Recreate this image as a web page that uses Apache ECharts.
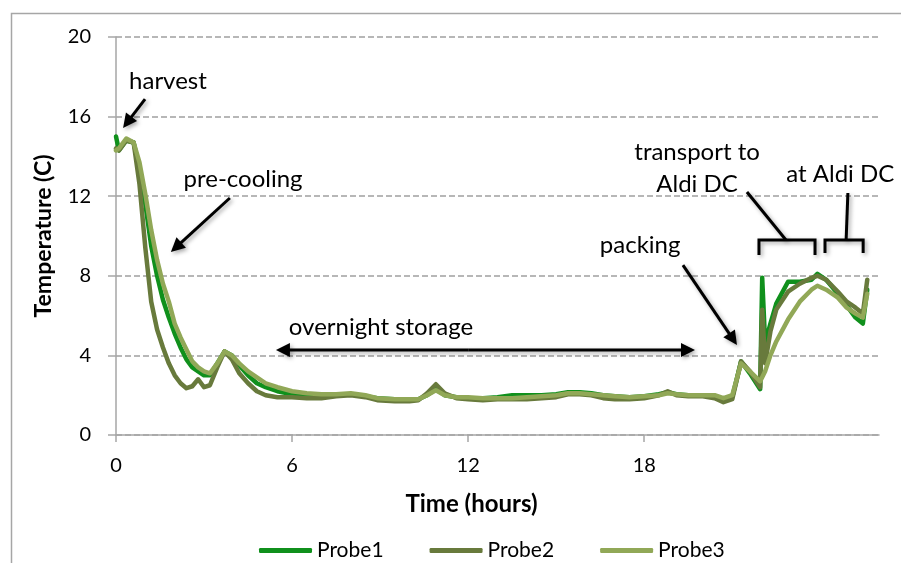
<!DOCTYPE html>
<html>
<head>
<meta charset="utf-8">
<script src="https://cdn.jsdelivr.net/npm/echarts@6/dist/echarts.min.js"></script>
<style>
html,body{margin:0;padding:0;background:#fff;}
#chart{width:901px;height:563px;}
</style>
</head>
<body>
<div id="chart"></div>
<script>
// ---- data (time in hours, temperature in °C) ----
const seriesNames = ['Probe1', 'Probe2', 'Probe3'];
const hours = [0, 0.1, 0.35, 0.6, 0.8, 1.0, 1.2, 1.4, 1.6, 1.8, 2.0, 2.2, 2.4, 2.6, 2.8, 3.0, 3.2, 3.45, 3.7, 3.95,
  4.2, 4.5, 4.8, 5.1, 5.5, 6.0, 6.5, 7.0, 7.5, 8.0, 8.5, 8.9, 9.5, 10.0, 10.3, 10.6, 10.9, 11.2, 11.6, 12.0,
  12.5, 13.0, 13.5, 14.0, 14.5, 15.0, 15.4, 15.8, 16.2, 16.6, 17.0, 17.5, 18.0, 18.5, 18.8, 19.1, 19.5, 20.0, 20.4, 20.7,
  21.0, 21.3, 21.6, 21.95, 22.02, 22.12, 22.3, 22.5, 22.9, 23.3, 23.7, 23.9, 24.2, 24.6, 24.9, 25.2, 25.45, 25.6];
const probe1 = [15.0, 14.3, 14.8, 14.7, 13.4, 11.6, 9.5, 8.0, 6.8, 5.9, 5.1, 4.4, 3.8, 3.4, 3.2, 3.0, 3.0, 3.6, 4.2, 4.0,
  3.5, 3.0, 2.6, 2.4, 2.2, 2.05, 2.0, 1.95, 2.0, 2.05, 1.95, 1.85, 1.8, 1.75, 1.8, 2.0, 2.3, 2.0, 1.9, 1.85,
  1.85, 1.9, 2.0, 2.0, 2.0, 2.05, 2.15, 2.15, 2.1, 2.0, 1.95, 1.9, 1.95, 2.05, 2.15, 2.05, 2.0, 2.0, 1.95, 1.75,
  1.9, 3.7, 3.1, 2.3, 7.9, 4.6, 5.6, 6.6, 7.7, 7.7, 7.8, 8.1, 7.8, 7.1, 6.5, 5.9, 5.6, 7.3];
const probe2 = [14.4, 14.3, 14.8, 14.7, 12.6, 9.4, 6.7, 5.3, 4.4, 3.6, 3.0, 2.6, 2.35, 2.45, 2.8, 2.4, 2.5, 3.4, 4.2, 3.8,
  3.1, 2.6, 2.2, 2.0, 1.9, 1.9, 1.85, 1.85, 1.95, 2.0, 1.9, 1.75, 1.7, 1.7, 1.75, 2.1, 2.55, 2.1, 1.85, 1.8,
  1.75, 1.8, 1.8, 1.8, 1.85, 1.9, 2.05, 2.05, 2.0, 1.85, 1.8, 1.8, 1.85, 2.0, 2.2, 2.0, 1.95, 1.95, 1.85, 1.65,
  1.8, 3.7, 3.2, 2.4, 6.3, 3.6, 5.2, 6.3, 7.2, 7.6, 7.9, 8.0, 7.8, 7.2, 6.7, 6.4, 6.1, 7.8];
const probe3 = [14.3, 14.4, 14.9, 14.7, 13.7, 12.1, 10.3, 8.8, 7.6, 6.7, 5.6, 4.9, 4.3, 3.7, 3.4, 3.2, 3.1, 3.6, 4.2, 4.0,
  3.6, 3.2, 2.9, 2.6, 2.4, 2.2, 2.1, 2.05, 2.05, 2.1, 2.0, 1.85, 1.8, 1.8, 1.8, 2.0, 2.25, 2.0, 1.9, 1.9,
  1.85, 1.85, 1.85, 1.9, 1.95, 2.0, 2.1, 2.1, 2.05, 2.0, 1.95, 1.9, 1.95, 2.0, 2.1, 2.05, 2.0, 2.0, 2.0, 1.85,
  2.0, 3.6, 3.2, 2.7, 2.9, 3.2, 4.0, 4.7, 5.8, 6.7, 7.3, 7.5, 7.3, 6.9, 6.4, 6.1, 5.9, 7.1];
const xTicks = [0, 6, 12, 18, 24];
const yTicks = [0, 4, 8, 12, 16, 20];

// annotation texts & anchor points in data coordinates [hours, °C]
const annotTexts = [
  {text: 'harvest', at: [1.77, 17.8]},
  {text: 'pre-cooling', at: [4.33, 12.85]},
  {text: 'overnight storage', at: [9.03, 5.4]},
  {text: 'packing', at: [17.86, 9.55]},
  {text: 'transport to', at: [19.8, 14.2]},
  {text: 'Aldi DC', at: [19.8, 12.6]},
  {text: 'at Aldi DC', at: [24.68, 13.1]}
];
const annotArrows = [ // [from, to], arrowhead at "to"
  {from: [0.99, 16.88], to: [0.24, 15.43]},
  {from: [3.88, 11.91], to: [1.87, 9.2]},
  {from: [19.32, 8.54], to: [21.16, 4.52]},
  {from: [12.0, 4.27], to: [5.45, 4.27]},
  {from: [12.0, 4.27], to: [19.73, 4.27]}
];
const annotLines = [
  [[21.5, 12.21], [22.83, 9.8]],
  [[24.94, 12.16], [24.88, 9.8]]
];
const annotBrackets = [ // [xStart, xEnd, yTop, yBottom]
  [21.91, 23.82, 9.8, 9.05],
  [24.16, 25.46, 9.8, 9.15]
];

const colors = ['#10901c', '#687a3c', '#91a857'];
const FONT = 'Lato';
const values = [probe1, probe2, probe3];

const chart = echarts.init(document.getElementById('chart'), null, {renderer: 'canvas'});
const axisGray = '#a6a6a6';

chart.setOption({
  animation: false,
  backgroundColor: '#fff',
  textStyle: {fontFamily: FONT, color: '#000'},
  grid: {left: 116, top: 37, right: 22, bottom: 128, containLabel: false},
  legend: {
    data: seriesNames,
    left: 254, top: 535,
    itemWidth: 53, itemHeight: 5, itemGap: 46,
    icon: 'roundRect',
    textStyle: {fontSize: 21, fontFamily: FONT, color: '#000'}
  },
  xAxis: {
    type: 'value', min: 0, max: 26, interval: 6,
    name: 'Time (hours)', nameLocation: 'middle', nameGap: 57,
    nameTextStyle: {fontSize: 24, fontWeight: 'bold', fontFamily: FONT, color: '#000', padding: [0, 52, 0, 0]},
    axisLine: {show: true, lineStyle: {color: axisGray, width: 1.5}},
    axisTick: {show: true, length: 7, lineStyle: {color: axisGray, width: 1.5}, customValues: xTicks},
    axisLabel: {fontSize: 20, color: '#000', fontFamily: FONT, margin: 21, customValues: xTicks, showMaxLabel: false},
    splitLine: {show: false}
  },
  yAxis: {
    type: 'value', min: 0, max: 20, interval: 4,
    name: 'Temperature (C)', nameLocation: 'middle', nameGap: 61,
    nameTextStyle: {fontSize: 23, fontWeight: 'bold', fontFamily: FONT, color: '#000'},
    axisLine: {show: true, lineStyle: {color: axisGray, width: 1.5}},
    axisTick: {show: true, length: 8, lineStyle: {color: axisGray, width: 1.5}},
    axisLabel: {fontSize: 20, color: '#000', fontFamily: FONT, margin: 25, customValues: yTicks},
    splitLine: {show: true, lineStyle: {color: '#a0a0a0', width: 1.5, type: [6, 3]}}
  },
  series: seriesNames.map((name, i) => ({
    name: name,
    type: 'line',
    data: hours.map((h, k) => [h, values[i][k]]),
    showSymbol: false,
    symbol: 'none',
    lineStyle: {width: 4.5, color: colors[i], cap: 'round', join: 'round'},
    itemStyle: {color: colors[i]},
    z: 2 + i
  }))
});

// ---- annotations, positioned through the chart's own coordinate system ----
function px(p) { return chart.convertToPixel({gridIndex: 0}, p); }
const shadow = {shadowColor: 'rgba(0,0,0,0.35)', shadowBlur: 4, shadowOffsetX: 2, shadowOffsetY: 2};
const g = [];
g.push({type: 'rect', shape: {x: 11.5, y: 13.5, width: 1000, height: 1000},
  style: {fill: 'none', stroke: '#a6a6a6', lineWidth: 1.5}, silent: true, z: 0});
annotTexts.forEach(a => {
  const p = px(a.at);
  g.push({type: 'text', x: p[0], y: p[1], z: 10,
    style: {text: a.text, font: '24px ' + FONT, fill: '#000', align: 'center', verticalAlign: 'middle'}});
});
function arrow(from, to) {
  const a = px(from), b = px(to);
  const dx = b[0] - a[0], dy = b[1] - a[1];
  const len = Math.sqrt(dx * dx + dy * dy);
  const ux = dx / len, uy = dy / len;
  const L = 14, W = 7;
  const bx = b[0] - ux * L, by = b[1] - uy * L;
  g.push({type: 'line', z: 10, shape: {x1: a[0], y1: a[1], x2: bx + ux * 2, y2: by + uy * 2},
    style: Object.assign({stroke: '#000', lineWidth: 3}, shadow)});
  g.push({type: 'polygon', z: 10, shape: {points: [[b[0], b[1]], [bx - uy * W, by + ux * W], [bx + uy * W, by - ux * W]]},
    style: Object.assign({fill: '#000'}, shadow)});
}
annotArrows.forEach(a => arrow(a.from, a.to));
annotLines.forEach(l => {
  const a = px(l[0]), b = px(l[1]);
  g.push({type: 'line', z: 10, shape: {x1: a[0], y1: a[1], x2: b[0], y2: b[1]},
    style: Object.assign({stroke: '#000', lineWidth: 3}, shadow)});
});
annotBrackets.forEach(br => {
  const p1 = px([br[0], br[3]]), p2 = px([br[0], br[2]]), p3 = px([br[1], br[2]]), p4 = px([br[1], br[3]]);
  g.push({type: 'polyline', z: 10, shape: {points: [p1, p2, p3, p4]},
    style: Object.assign({stroke: '#000', lineWidth: 3, fill: 'none', lineJoin: 'miter'}, shadow)});
});
chart.setOption({graphic: {elements: g}});
</script>
</body>
</html>
